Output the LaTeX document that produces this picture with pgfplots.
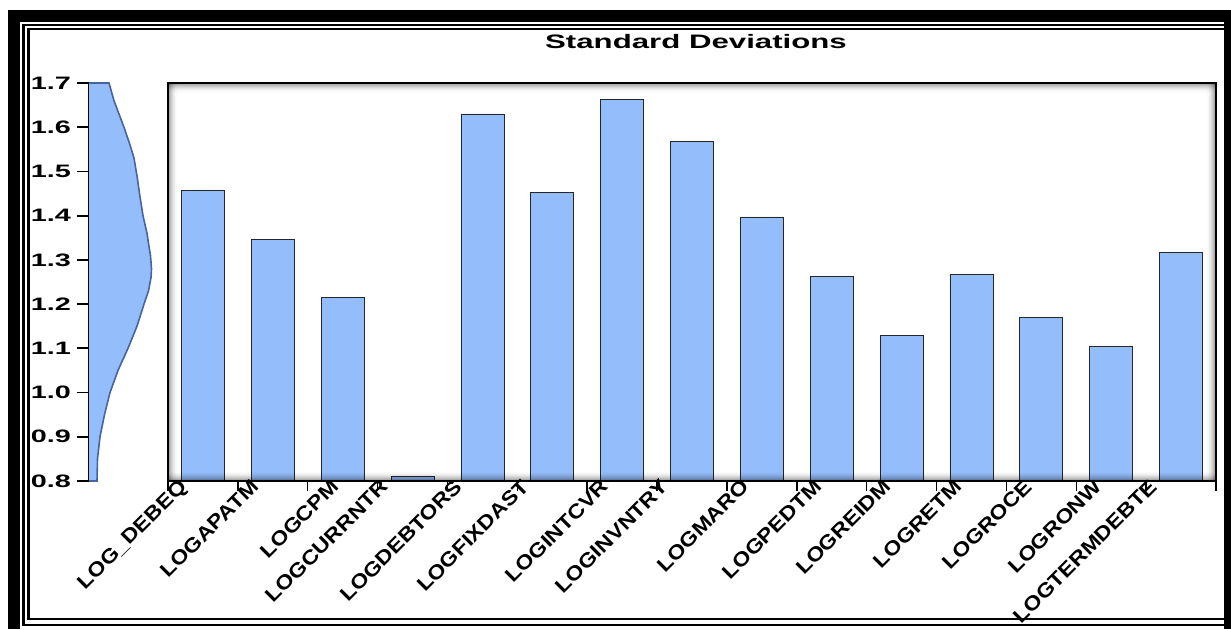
\documentclass[border=0pt]{standalone}
\usepackage{pgfplots}
\pgfplotsset{compat=1.18}
\usepackage{fontspec}
\setmainfont{Liberation Sans}
\usepackage{graphicx}

\definecolor{barblue}{RGB}{148,189,251}
\definecolor{edgeblue}{RGB}{70,100,158}

% tick label helpers: bold, horizontally stretched
\newcommand\yl[1]{\scalebox{1.6}[1]{\fontsize{18}{20}\selectfont\bfseries #1}}
\newcommand\xl[1]{\scalebox{1.15}[1]{\fontsize{20}{22}\selectfont\bfseries #1}}

\begin{document}
\begin{tikzpicture}
\useasboundingbox (0pt,0pt) rectangle (1231pt,629pt);

% outer frame
\begin{scope}[x=1pt,y=1pt]
\fill[black] (8,0) rectangle (20,619);
\fill[black] (8,607) rectangle (1231,619);
\fill[black] (1224,0) rectangle (1231,619);
\draw[line width=2.5pt] (23.5,4) rectangle (1226,604);
\draw[line width=2.5pt] (28.5,10) rectangle (1226,600);
% title
\node at (696,587) {\scalebox{1.6}[1]{\fontsize{19.5}{22}\selectfont\bfseries Standard Deviations}};
\end{scope}

% kernel density of the standard deviations, drawn along the value axis
\begin{axis}[
  at={(89pt,148pt)}, anchor=south west, scale only axis,
  width=70pt, height=398pt,
  xmin=0, xmax=70, ymin=0.8, ymax=1.7,
  axis x line=none, axis y line*=left,
  y axis line style={-, line width=1.8pt, black},
  xtick=\empty,
  ytick={0.8,0.9,1.0,1.1,1.2,1.3,1.4,1.5,1.6,1.7},
  yticklabels={\yl{0.8},\yl{0.9},\yl{1.0},\yl{1.1},\yl{1.2},\yl{1.3},\yl{1.4},\yl{1.5},\yl{1.6},\yl{1.7}},
  tick align=outside, major tick length=12pt,
  ytick style={line width=1.8pt, black},
  yticklabel style={inner sep=0pt, anchor=east, xshift=-6pt},
  clip=false]
\addplot[fill=barblue, draw=edgeblue, line width=1.6pt] coordinates {
  (0,0.8) (8,0.8) (8.5,0.85) (11,0.9) (15.5,0.95) (21,1.0) (29,1.05)
  (39,1.1) (48,1.15) (55,1.2) (59.5,1.23) (62,1.26) (62.5,1.28)
  (61.5,1.31) (60,1.33) (58,1.36) (54,1.4) (50.5,1.45) (48,1.49)
  (45,1.53) (41,1.56) (35,1.6) (30,1.63) (25,1.66) (20,1.7) (0,1.7)};
\end{axis}

% bars
\begin{axis}[
  at={(168pt,148pt)}, anchor=south west, scale only axis,
  width=1048pt, height=398pt,
  xmin=0.5, xmax=15.5, ymin=0.8, ymax=1.7,
  ytick=\empty,
  xtick={0.64,1.67,2.82,3.53,4.58,5.54,6.68,7.54,8.69,9.73,10.72,11.74,12.74,13.74,14.53},
  xticklabels={\xl{LOG\_DEBEQ},\xl{LOGAPATM},\xl{LOGCPM},\xl{LOGCURRNTR},\xl{LOGDEBTORS},
    \xl{LOGFIXDAST},\xl{LOGINTCVR},\xl{LOGINVNTRY},\xl{LOGMARO},\xl{LOGPEDTM},
    \xl{LOGREIDM},\xl{LOGRETM},\xl{LOGROCE},\xl{LOGRONW},\xl{LOGTERMDEBTE}},
  xtick pos=bottom, tick align=outside,
  major tick length=0pt,
  minor xtick={0.5,1.5,...,15.5}, minor tick length=10pt,
  tick style={black, line width=1.5pt},
  axis line style={line width=1.5pt},
  xticklabel style={yshift=3pt, rotate=45, anchor=north east, inner sep=0pt}]
\addplot[ybar, bar width=43pt, fill=barblue, draw=black!85, line width=0.8pt] coordinates {
  (1,1.458) (2,1.347) (3,1.216) (4,0.810) (5,1.630) (6,1.452) (7,1.662) (8,1.567)
  (9,1.397) (10,1.262) (11,1.130) (12,1.268) (13,1.169) (14,1.105) (15,1.316)};
\end{axis}

% inner shadow of the plot frame
\begin{scope}[x=1pt,y=1pt]
\foreach \k in {0,...,9} {
  \pgfmathsetmacro\op{0.4*(1-\k/10)^2}
  \fill[black, fill opacity=\op] (168+\k,148) rectangle (169+\k,546);
  \fill[black, fill opacity=\op] (1215-\k,148) rectangle (1216-\k,546);
  \fill[black, fill opacity=\op] (168,545-\k) rectangle (1216,546-\k);
  \fill[black, fill opacity=\op] (168,148+\k) rectangle (1216,149+\k);
}
\draw[line width=1.5pt] (168,148) rectangle (1216,546);
\end{scope}
\end{tikzpicture}
\end{document}
